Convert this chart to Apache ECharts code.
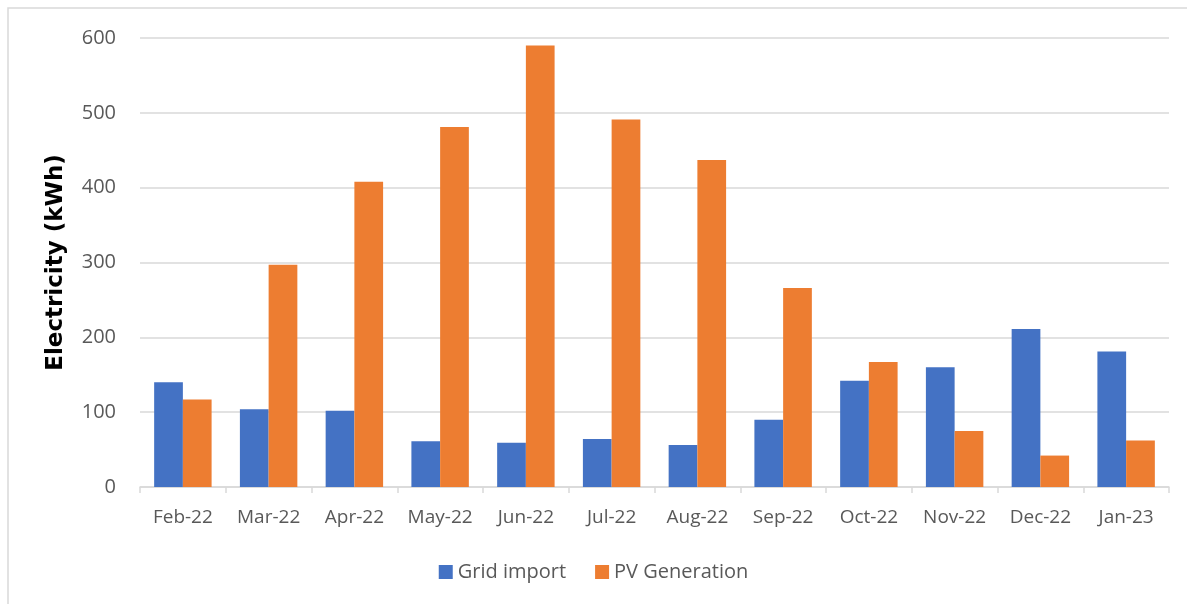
<!DOCTYPE html>
<html>
<head>
<meta charset="utf-8">
<script src="https://cdn.jsdelivr.net/npm/echarts@6/dist/echarts.min.js"></script>
<style>
  html, body { margin: 0; padding: 0; background: #ffffff; }
  #chart { width: 1187px; height: 604px; }
</style>
</head>
<body>
<div id="chart"></div>
<script>
// 月份
const months = ['Feb-22', 'Mar-22', 'Apr-22', 'May-22', 'Jun-22', 'Jul-22', 'Aug-22', 'Sep-22', 'Oct-22', 'Nov-22', 'Dec-22', 'Jan-23']
// 电网购电
const gridImport = [140, 104, 102, 61, 59, 64, 56, 90, 142, 160, 211, 181]
// 光伏发电
const pvGeneration = [117, 297, 408, 481, 590, 491, 437, 266, 167, 75, 42, 62]

const chart = echarts.init(document.getElementById('chart'))

const labelFont = '"Open Sans", "Liberation Sans", sans-serif'

const option = {
  backgroundColor: '#ffffff',
  animation: false,
  graphic: [
    // 外框（只看得到左边和上边）
    {
      type: 'polyline',
      shape: { points: [[8, 604], [8, 8], [1187, 8]] },
      style: { fill: 'none', stroke: '#d9d9d9', lineWidth: 1.5 }
    }
  ],
  legend: {
    bottom: 17,
    left: 'center',
    itemWidth: 14,
    itemHeight: 14,
    itemGap: 29,
    icon: 'rect',
    textStyle: { color: '#595959', fontSize: 20, fontFamily: labelFont },
    data: ['Grid import', 'PV Generation']
  },
  grid: {
    left: 140,
    right: 18,
    top: 38,
    bottom: 117
  },
  xAxis: {
    type: 'category',
    data: months,
    axisLine: { lineStyle: { color: '#d9d9d9', width: 1.5 } },
    axisTick: { show: true, interval: 0, length: 6, lineStyle: { color: '#d9d9d9', width: 1.5 } },
    axisLabel: { interval: 0, color: '#595959', fontSize: 19, fontFamily: labelFont, margin: 21 }
  },
  yAxis: {
    type: 'value',
    min: 0,
    max: 600,
    interval: 100,
    name: 'Electricity (kWh)',
    nameLocation: 'middle',
    nameGap: 72,
    nameTextStyle: { color: '#000000', fontSize: 23, fontWeight: 'bold', fontFamily: '"DejaVu Sans", sans-serif' },
    axisLine: { show: false },
    axisTick: { show: false },
    axisLabel: { color: '#595959', fontSize: 20, fontFamily: labelFont, margin: 24 },
    splitLine: { lineStyle: { color: '#d9d9d9', width: 1.5 } }
  },
  series: [
    {
      name: 'Grid import',
      type: 'bar',
      data: gridImport,
      barGap: '0%',
      barCategoryGap: '33%',
      itemStyle: { color: '#4472c4' }
    },
    {
      name: 'PV Generation',
      type: 'bar',
      data: pvGeneration,
      barGap: '0%',
      barCategoryGap: '33%',
      itemStyle: { color: '#ed7d31' }
    }
  ]
}

chart.setOption(option)
</script>
</body>
</html>
